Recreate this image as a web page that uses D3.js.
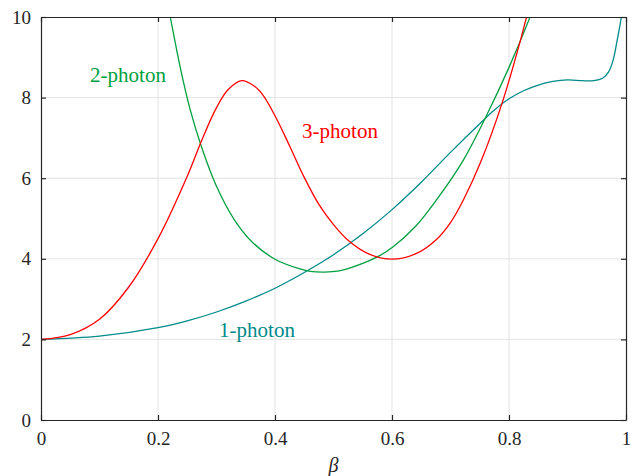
<!DOCTYPE html>
<html>
<head>
<meta charset="utf-8">
<script src="https://cdn.jsdelivr.net/npm/d3@7"></script>
<style>
  body { margin: 0; background: #fff; }
  svg text { font-family: "Liberation Serif", "DejaVu Serif", serif; }
</style>
</head>
<body>
<svg id="chart" width="638" height="476"></svg>
<script>
// values (beta, value)
const onePhotonX = [0, 0.1, 0.2, 0.25, 0.3, 0.35, 0.4, 0.45, 0.5, 0.55, 0.6, 0.65, 0.7, 0.75, 0.775, 0.8, 0.825, 0.85, 0.875, 0.9, 0.925, 0.945, 0.96, 0.97, 0.978, 0.985, 0.992, 0.998];
const onePhotonY = [2, 2.08, 2.29, 2.46, 2.68, 2.95, 3.27, 3.66, 4.1, 4.62, 5.22, 5.9, 6.64, 7.35, 7.69, 7.97, 8.17, 8.31, 8.4, 8.44, 8.42, 8.42, 8.48, 8.63, 8.93, 9.43, 10.0, 10.8];

const twoPhotonX = [0.215, 0.221, 0.238, 0.255, 0.275, 0.3, 0.33, 0.36, 0.4, 0.44, 0.46, 0.485, 0.51, 0.53, 0.574, 0.602, 0.64, 0.676, 0.722, 0.762, 0.8, 0.836, 0.845];
const twoPhotonY = [10.45, 10.0, 8.75, 7.7, 6.75, 5.8, 4.98, 4.43, 3.99, 3.76, 3.69, 3.67, 3.7, 3.78, 4.04, 4.3, 4.8, 5.46, 6.45, 7.57, 8.75, 10.0, 10.35];

const threePhotonX = [0, 0.05, 0.1, 0.15, 0.2, 0.25, 0.275, 0.3, 0.32, 0.343, 0.365, 0.38, 0.4, 0.425, 0.45, 0.475, 0.5, 0.528, 0.56, 0.6, 0.64, 0.676, 0.7, 0.722, 0.753, 0.789, 0.819, 0.83, 0.84];
const threePhotonY = [2, 2.12, 2.5, 3.3, 4.5, 6.05, 6.95, 7.75, 8.2, 8.42, 8.28, 8.05, 7.55, 6.8, 6.02, 5.35, 4.85, 4.42, 4.12, 3.99, 4.12, 4.48, 4.9, 5.46, 6.45, 7.9, 9.39, 10.0, 10.5];

const xTicks = [0, 0.2, 0.4, 0.6, 0.8, 1];
const yTicks = [0, 2, 4, 6, 8, 10];

const series = [
  { name: '1-photon', xs: onePhotonX, ys: onePhotonY, color: '#008a8a', lx: 257, ly: 337 },
  { name: '2-photon', xs: twoPhotonX, ys: twoPhotonY, color: '#00a040', lx: 128, ly: 82 },
  { name: '3-photon', xs: threePhotonX, ys: threePhotonY, color: '#ff0000', lx: 340, ly: 138 }
];

const margin = { left: 41, right: 12, top: 17, bottom: 56 };
const width = 638, height = 476;

const svg = d3.select('#chart');

const x = d3.scaleLinear().domain([0, 1]).range([margin.left, width - margin.right]);
const y = d3.scaleLinear().domain([0, 10]).range([height - margin.bottom, margin.top]);

svg.append('defs').append('clipPath').attr('id', 'clip')
  .append('rect')
  .attr('x', x(0)).attr('y', y(10))
  .attr('width', x(1) - x(0)).attr('height', y(0) - y(10));

// grid
svg.append('g').selectAll('line').data(xTicks.slice(1, -1)).join('line')
  .attr('x1', d => x(d)).attr('x2', d => x(d))
  .attr('y1', y(0)).attr('y2', y(10))
  .attr('stroke', '#e3e3e3').attr('stroke-width', 1);
svg.append('g').selectAll('line').data(yTicks.slice(1, -1)).join('line')
  .attr('x1', x(0)).attr('x2', x(1))
  .attr('y1', d => y(d)).attr('y2', d => y(d))
  .attr('stroke', '#e3e3e3').attr('stroke-width', 1);

// curves
const line = d3.line()
  .x(d => x(d[0]))
  .y(d => y(d[1]))
  .curve(d3.curveCatmullRom.alpha(0.5));

const curves = svg.append('g').attr('clip-path', 'url(#clip)');
series.forEach(s => {
  const pts = s.xs.map((v, i) => [v, s.ys[i]]);
  curves.append('path')
    .datum(pts)
    .attr('d', line)
    .attr('fill', 'none')
    .attr('stroke', s.color)
    .attr('stroke-width', 1.3);
});

// labels
series.forEach(s => {
  svg.append('text')
    .attr('x', s.lx).attr('y', s.ly)
    .attr('text-anchor', 'middle')
    .attr('fill', s.color)
    .style('font-size', '21px')
    .text(s.name);
});

// axes (box with inward ticks on all sides)
const axisColor = '#262626';
const tickLen = 5;
const axBottom = svg.append('g').attr('transform', `translate(0,${y(0)})`)
  .call(d3.axisBottom(x).tickValues(xTicks).tickSizeInner(-tickLen).tickSizeOuter(0).tickPadding(12).tickFormat(d3.format('')));
const axLeft = svg.append('g').attr('transform', `translate(${x(0)},0)`)
  .call(d3.axisLeft(y).tickValues(yTicks).tickSizeInner(-tickLen).tickSizeOuter(0).tickPadding(10));
const axTop = svg.append('g').attr('transform', `translate(0,${y(10)})`)
  .call(d3.axisTop(x).tickValues(xTicks).tickSizeInner(-tickLen).tickSizeOuter(0).tickFormat(''));
const axRight = svg.append('g').attr('transform', `translate(${x(1)},0)`)
  .call(d3.axisRight(y).tickValues(yTicks).tickSizeInner(-tickLen).tickSizeOuter(0).tickFormat(''));

[axBottom, axLeft, axTop, axRight].forEach(g => {
  g.selectAll('path').attr('stroke', axisColor).attr('stroke-width', 1.2);
  g.selectAll('line').attr('stroke', axisColor).attr('stroke-width', 1.2);
  g.selectAll('text').attr('fill', '#262626').style('font-size', '19px')
    .style('font-family', '"Liberation Serif", serif');
});

svg.append('text')
  .attr('x', x(0.5)).attr('y', 472)
  .attr('text-anchor', 'middle')
  .attr('fill', '#262626')
  .style('font-size', '20px')
  .style('font-style', 'italic')
  .text('β');
</script>
</body>
</html>
